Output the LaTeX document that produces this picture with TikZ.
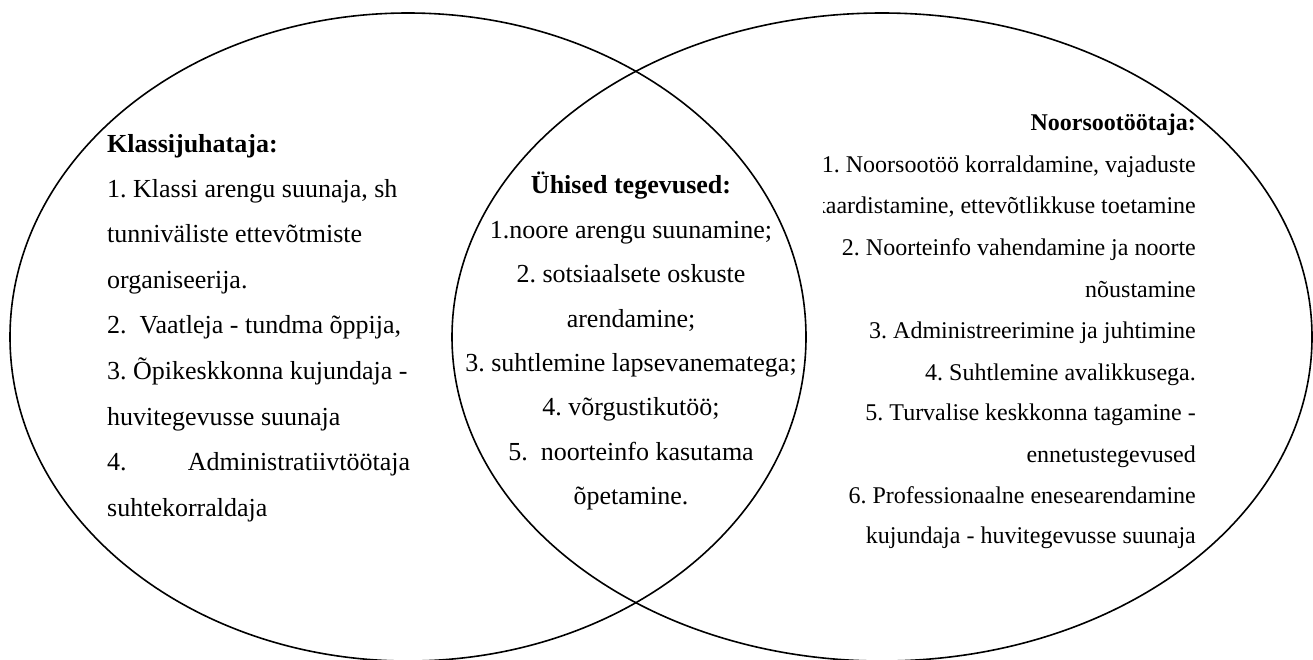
\documentclass[tikz,border=0pt]{standalone}
\usepackage{fontspec}
\setmainfont[Ligatures=NoCommon]{Liberation Serif}
\frenchspacing
\tikzset{
  ring/.style={line width=1.6pt},
  vasak/.style={anchor=base west, inner sep=0pt, font=\fontsize{26}{30}\selectfont},
  kesk/.style={anchor=base, inner sep=0pt, font=\fontsize{26}{30}\selectfont},
  parem/.style={anchor=base east, inner sep=0pt, font=\fontsize{24}{28}\selectfont}
}

\begin{document}
\begin{tikzpicture}[x=1pt,y=-1pt]
			\useasboundingbox (0,0) rectangle (1313,659);
			\clip (0,0) rectangle (1313,659);
			
			% ringid
			\draw[ring] (408,337) ellipse [x radius=398, y radius=324];
			\draw[ring] (882,337) ellipse [x radius=430, y radius=324];
			
			% klassijuhataja
			\node[vasak, font=\fontsize{26}{30}\selectfont\bfseries] (k0) at (107,152) {Klassijuhataja:};
			\node[vasak] (k1) at (107,197) {1. Klassi arengu suunaja, sh};
			\node[vasak] (k2) at (107,242) {tunniväliste ettevõtmiste};
			\node[vasak] (k3) at (107,288) {organiseerija.};
			\node[vasak] (k4) at (107,333) {2.\ \ Vaatleja - tundma õppija,};
			\node[vasak] (k5) at (107,379) {3. Õpikeskkonna kujundaja -};
			\node[vasak] (k6) at (107,425) {huvitegevusse suunaja};
			\node[vasak] (k7) at (107,470) {\hbox to 303pt{4.\hfill Administratiivtöötaja}};
			\node[vasak] (k8) at (107,516) {suhtekorraldaja};
			
			% yhised tegevused
			\node[kesk, font=\fontsize{26}{30}\selectfont\bfseries] (y0) at (631,193) {Ühised tegevused:};
			\node[kesk] (y1) at (631,238) {1.noore arengu suunamine;};
			\node[kesk] (y2) at (631,282) {2. sotsiaalsete oskuste};
			\node[kesk] (y3) at (631,327) {arendamine;};
			\node[kesk] (y4) at (631,371) {3. suhtlemine lapsevanematega;};
			\node[kesk] (y5) at (631,415) {4. võrgustikutöö;};
			\node[kesk] (y6) at (631,460) {5.\ \ noorteinfo kasutama};
			\node[kesk] (y7) at (631,504) {õpetamine.};
			
			% noorsootootaja
			\node[parem, font=\fontsize{24}{28}\selectfont\bfseries] (n0) at (1196,130) {Noorsootöötaja:};
			\node[parem] (n1) at (1196,172) {1. Noorsootöö korraldamine, vajaduste};
			\begin{scope}
				\clip (823,0) rectangle (1313,659);
				\node[parem] (n2) at (1196,213) {kaardistamine, ettevõtlikkuse toetamine};
			\end{scope}
			\node[parem] (n3) at (1196,255) {2. Noorteinfo vahendamine ja noorte};
			\node[parem] (n4) at (1196,297) {nõustamine};
			\node[parem] (n5) at (1196,338) {3. Administreerimine ja juhtimine};
			\node[parem] (n6) at (1196,380) {4. Suhtlemine avalikkusega.};
			\node[parem] (n7) at (1196,420) {5. Turvalise keskkonna tagamine -};
			\node[parem] (n8) at (1196,462) {ennetustegevused};
			\node[parem] (n9) at (1196,503) {6. Professionaalne enesearendamine};
			\node[parem] (n10) at (1196,543) {kujundaja - huvitegevusse suunaja};
			\end{tikzpicture}
\end{document}
